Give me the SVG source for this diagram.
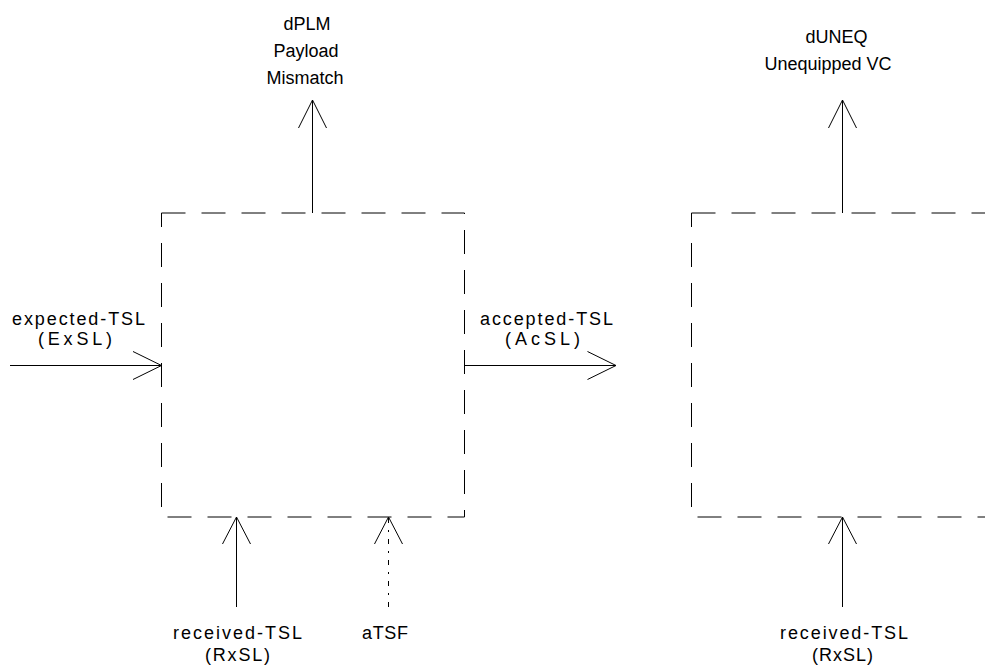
<svg xmlns="http://www.w3.org/2000/svg" width="985" height="666" viewBox="0 0 985 666">
<style>
.box{fill:none;stroke:#000;stroke-width:1;stroke-dasharray:24 16}
.ln{fill:none;stroke:#000;stroke-width:1}
.dot{fill:none;stroke:#000;stroke-width:1;stroke-dasharray:5 7 2 7}
text{font-family:"Liberation Sans",Arial,sans-serif;font-size:18px;fill:#000;text-anchor:middle}
</style>
<rect width="985" height="666" fill="#fff"/>
<g id="block1">
<rect class="box" x="161.5" y="213" width="303" height="304"/>
</g>
<g id="block2">
<rect class="box" x="691.5" y="213" width="303" height="304"/>
</g>
<g id="connectors">
<path class="ln" d="M312.5 213V100M298.5 128L312.5 100L326.5 128"/>
<path class="ln" d="M842.5 213V100M828.5 128L842.5 100L856.5 128"/>
<path class="ln" d="M10 365.5H161.5M133 351.5L161.5 365.5L133 379.5"/>
<path class="ln" d="M464.5 365.5H616M587.5 351.5L616 365.5L587.5 379.5"/>
<path class="ln" d="M236.5 607V517M222.5 544L236.5 517L250.5 544"/>
<path class="dot" d="M388.5 607V517"/>
<path class="ln" d="M374.5 544L388.5 517L402.5 544"/>
<path class="ln" d="M842.5 607V517M828.5 544L842.5 517L856.5 544"/>
</g>
<g id="labels">
<text x="307" y="30">dPLM</text>
<text x="306" y="57">Payload</text>
<text x="305" y="84">Mismatch</text>
<text x="836.5" y="43">dUNEQ</text>
<text x="828" y="70">Unequipped VC</text>
<text x="78.5" y="325" textLength="133" lengthAdjust="spacing">expected-TSL</text>
<text x="75" y="345" textLength="74" lengthAdjust="spacing">(ExSL)</text>
<text x="546.5" y="325" textLength="133" lengthAdjust="spacing">accepted-TSL</text>
<text x="542.5" y="345" textLength="75" lengthAdjust="spacing">(AcSL)</text>
<text x="237.5" y="639" textLength="129" lengthAdjust="spacing">received-TSL</text>
<text x="237.5" y="661" textLength="65" lengthAdjust="spacing">(RxSL)</text>
<text x="385" y="639" textLength="46" lengthAdjust="spacing">aTSF</text>
<text x="844" y="639" textLength="128" lengthAdjust="spacing">received-TSL</text>
<text x="842.5" y="661" textLength="61" lengthAdjust="spacing">(RxSL)</text>
</g>
</svg>
